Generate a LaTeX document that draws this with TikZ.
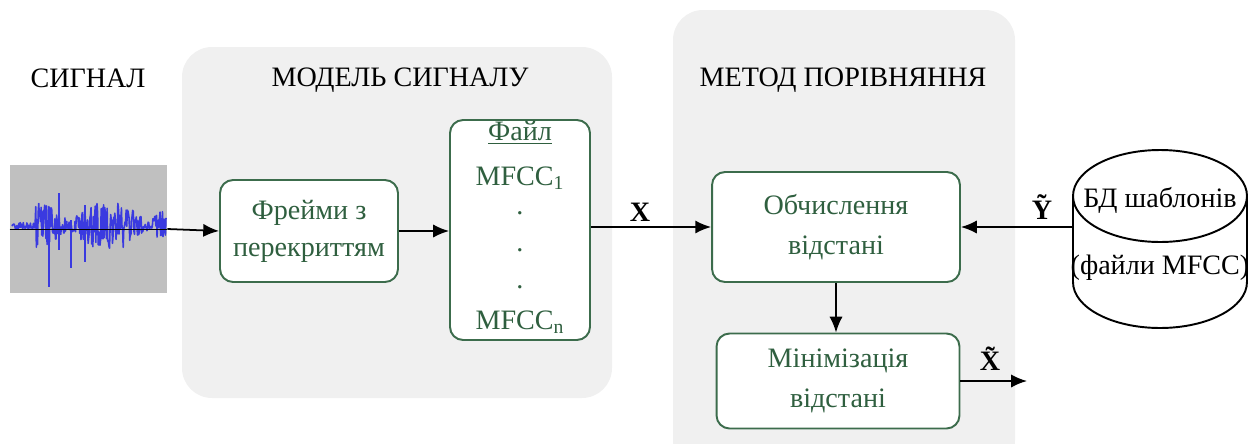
\documentclass[tikz,border=0pt]{standalone}
\usepackage{fontspec}
\setmainfont{Liberation Serif}
\newfontfamily\serif{Liberation Serif}
\usetikzlibrary{arrows.meta}
\definecolor{panelgray}{HTML}{F0F0F0}
\definecolor{sigbg}{HTML}{C0C0C0}
\definecolor{sigblue}{HTML}{3A3AE0}
\definecolor{boxgreen}{HTML}{3C6C4C}
\definecolor{txtgreen}{HTML}{2F5F3F}
\begin{document}
\begin{tikzpicture}[x=0.02cm,y=-0.02cm,
  font=\serif\fontsize{16}{19}\selectfont,
  panel/.style={fill=panelgray, rounded corners=0.6cm},
  box/.style={draw=boxgreen, fill=white, line width=1.1pt, rounded corners=0.26cm, align=center, text=txtgreen, inner sep=0pt},
  title/.style={text=black},
  conn/.style={line width=1pt, -{Latex[length=9pt,width=7.5pt]}},
  lbl/.style={text=black, inner sep=1pt, font=\serif\fontsize{16}{19}\selectfont\bfseries}
]
\useasboundingbox (0,0) rectangle (1250,443);
\clip (0,0) rectangle (1250,443);
% panels
\fill[panel] (182,47) rectangle (612,398);
\fill[panel] (673,10) rectangle (1015,470);
% titles
\node[title] (t1) at (88,78) {СИГНАЛ};
\node[title] (t2) at (400,80) {МОДЕЛЬ СИГНАЛУ};
\node[title] (t3) at (843,80) {МЕТОД ПОРІВНЯННЯ};
% signal
\node[fill=sigbg, minimum width=3.14cm, minimum height=2.56cm, inner sep=0pt] (sig) at (88.5,229) {};
\pgfmathsetseed{11}
\draw[sigblue, line width=0.9pt, line join=round] plot[domain=12:166, samples=260] (\x,{226 + (4 + 22*abs(sin(\x*2.3+20))*(\x>35))*rand});
\draw[sigblue, line width=1pt] (49,215) -- (49,287);
\draw[sigblue, line width=1pt] (71,220) -- (71,268);
\draw[sigblue, line width=1pt] (59,193) -- (59,250);
\draw[sigblue, line width=1pt] (85,205) -- (85,262);
\draw[black, line width=0.5pt] (sig.west) -- (sig.east);
% boxes
\node[box, minimum width=3.56cm, minimum height=2.04cm] (frames) at (309,231) {Фрейми з\\[2pt]перекриттям};
\node[box, minimum width=2.8cm, minimum height=4.4cm] (file) at (520,230) {};
\node[text=txtgreen] (f0) at (520,133) {\underline{Файл}};
\node[text=txtgreen] (f1) at (520,178) {MFCC\textsubscript{1}};
\node[text=txtgreen] (f2) at (520,213) {.};
\node[text=txtgreen] (f3) at (520,250) {.};
\node[text=txtgreen] (f4) at (520,287) {.};
\node[text=txtgreen] (f5) at (520,322) {MFCC\textsubscript{n}};
\node[box, minimum width=4.96cm, minimum height=2.2cm] (calc) at (836,227) {Обчислення\\[4pt]відстані};
\node[box, minimum width=4.86cm, minimum height=1.9cm] (minb) at (838,381) {Мінімізація\\[4pt]відстані};
% cylinder
\draw[line width=1.1pt, fill=white] (1073,196) -- (1073,282) arc[start angle=180, end angle=360, x radius=1.74cm, y radius=0.92cm] -- (1247,196);
\draw[line width=1.1pt] (1160,196) ellipse [x radius=1.74cm, y radius=0.92cm];
\coordinate (db) at (1073,227);
\node (d1) at (1160,200) {БД шаблонів};
\node (d2) at (1160,268) {(файли MFCC)};
\coordinate (out) at (1027,381);
% connectors
\draw[conn] (sig.east) -- (frames.west);
\draw[conn] (frames.east) -- (file.west|-frames.east);
\draw[conn] (file.east|-calc.west) -- (calc.west);
\draw[conn] (db) -- (calc.east|-db);
\draw[conn] (calc.south) -- (calc.south|-minb.north);
\draw[conn] (minb.east) -- (out);
% labels
\node[lbl] (lx) at (640,212) {X};
\node[lbl] (ly) at (1042,207) {Ỹ};
\node[lbl] (lx2) at (990,359) {X̃};
\end{tikzpicture}
\end{document}
